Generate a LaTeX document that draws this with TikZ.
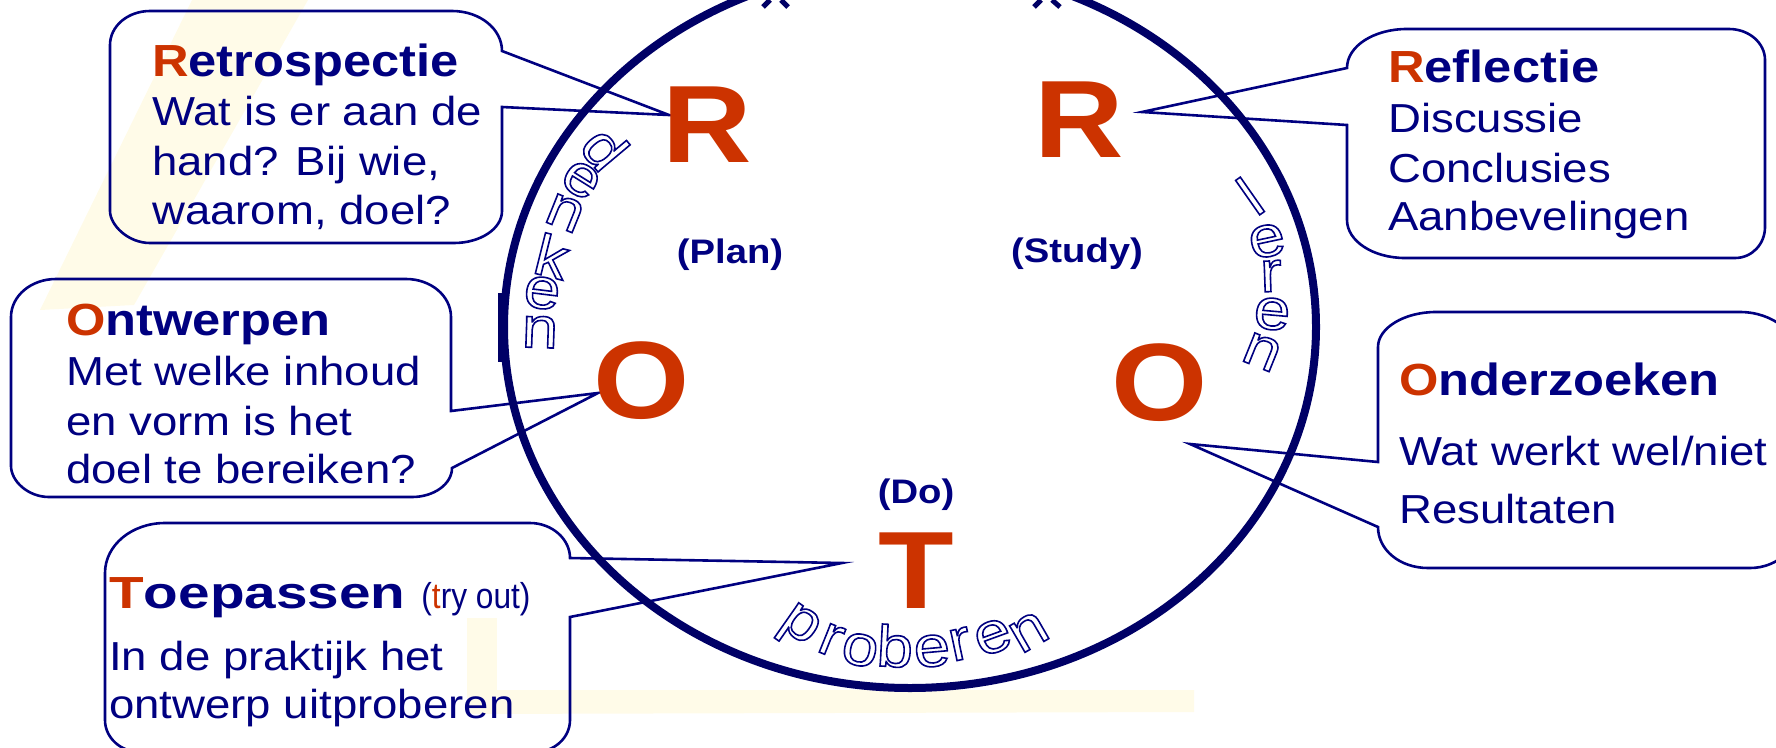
\documentclass[tikz,border=0pt]{standalone}
\usepackage{fontspec}
\setmainfont{Liberation Sans}[FakeStretch=1.125]
\newfontfamily\widefont{Liberation Sans}[FakeStretch=1.26]
\newfontfamily\narrowfont{Liberation Sans}[FakeStretch=0.88]
\newcommand\olt[1]{\special{pdf:literal direct 1 Tr 1.6 w}#1\special{pdf:literal direct 0 Tr}}
\definecolor{ink}{HTML}{000080}
\definecolor{ring}{HTML}{000066}
\definecolor{accent}{HTML}{CC3300}
\definecolor{cream}{HTML}{FFFBE8}
\begin{document}
\begin{tikzpicture}[x=1pt,y=-1pt,
  bubble/.style={draw=ink, line width=2.6pt},
  title/.style={anchor=base west, inner sep=0pt, text=ink, font=\fontsize{45}{50}\selectfont\bfseries},
  body/.style={anchor=base west, inner sep=0pt, text=ink, font=\fontsize{40.5}{48}\selectfont},
  bigletter/.style={anchor=base, inner sep=0pt, text=accent, font=\fontsize{110}{120}\selectfont\bfseries},
  phase/.style={anchor=base, inner sep=0pt, text=ink, font=\fontsize{34}{40}\selectfont\bfseries},
  outl/.style={inner sep=0pt, text=ink, font=\fontsize{58}{62}\selectfont}]
\useasboundingbox (0,0) rectangle (1776,747);
\clip (0,0) rectangle (1776,747);
% faint background strokes
\fill[cream] (192,0) -- (308,0) -- (134,305) -- (40,310) -- cycle;
\fill[cream] (467,690) -- (1194,690) -- (1194,712) -- (467,714) -- cycle;
\fill[cream] (467,618) rectangle (497,690);
% tips
\coordinate (tipA) at (669,115);
\coordinate (tipB) at (598,393);
\coordinate (tipC) at (842,563);
\coordinate (tipD) at (1142,112);
\coordinate (tipE) at (1190,444);
% bubbles
\draw[bubble] (110,45) .. controls (110,26) and (128,11) .. (150,11)
 -- (452,11) .. controls (480,11) and (502,29) .. (502,51)
 -- (tipA) -- (502,107)
 -- (502,211) .. controls (502,229) and (480,243) .. (454,243)
 -- (150,243) .. controls (128,243) and (110,225) .. (110,211) -- cycle;
\draw[bubble] (11,317) .. controls (11,296) and (31,279) .. (56,279)
 -- (406,279) .. controls (431,279) and (451,296) .. (451,317)
 -- (451,411) -- (tipB) -- (452,468)
 .. controls (452,484) and (434,497) .. (412,497)
 -- (49,497) .. controls (28,497) and (11,481) .. (11,466) -- cycle;
\draw[bubble] (105,573) .. controls (105,545) and (132,523) .. (165,523)
 -- (530,523) .. controls (552,523) and (570,539) .. (570,558)
 -- (tipC) -- (570,617)
 -- (570,720) .. controls (570,738) and (554,752) .. (535,752)
 -- (140,752) .. controls (121,752) and (105,738) .. (105,720) -- cycle;
\draw[bubble] (1347,68) .. controls (1347,46) and (1374,29) .. (1407,29)
 -- (1729,29) .. controls (1749,29) and (1765,43) .. (1765,60)
 -- (1765,227) .. controls (1765,244) and (1752,258) .. (1735,258)
 -- (1405,258) .. controls (1373,258) and (1347,241) .. (1347,220)
 -- (1347,125) -- (tipD) -- cycle;
\draw[bubble] (1378,347) .. controls (1378,328) and (1404,312) .. (1436,312)
 -- (1740,312) .. controls (1773,312) and (1800,334) .. (1800,360)
 -- (1800,520) .. controls (1800,547) and (1778,568) .. (1750,568)
 -- (1428,568) .. controls (1400,568) and (1378,550) .. (1378,527)
 -- (tipE) -- (1378,462) -- cycle;
% circle
\draw[ring, line width=8pt] (910,327) ellipse [x radius=406, y radius=361];
\fill[ring] (498,293) rectangle (507,362);
\draw[ring, line width=5pt] (770,0) -- (763,7) (781,0) -- (788,7)
  (1041,0) -- (1034,7) (1052,0) -- (1060,7);
% bubble texts
\node[title] (rt) at (152,76) {\textcolor{accent}{R}etrospectie};
\node[body] (rt1) at (152,125) {Wat is er aan de};
\node[body] (rt2) at (152,175) {hand? Bij wie,};
\node[body] (rt3) at (152,224) {waarom, doel?};
\node[title] (ot) at (66,335) {\textcolor{accent}{O}ntwerpen};
\node[body] (ot1) at (66,385) {Met welke inhoud};
\node[body] (ot2) at (66,435) {en vorm is het};
\node[body] (ot3) at (66,483) {doel te bereiken?};
\node[title] (tt) at (109,608) {\widefont\bfseries\textcolor{accent}{T}oepassen\hspace{16pt}{\narrowfont\mdseries\fontsize{36}{40}\selectfont (\textcolor{accent}{t}ry out)}};
\node[body] (tt1) at (109,670) {In de praktijk het};
\node[body] (tt2) at (109,718) {ontwerp uitproberen};
\node[title] (ft) at (1388,82) {\textcolor{accent}{R}eflectie};
\node[body] (ft1) at (1388,132) {Discussie};
\node[body] (ft2) at (1388,182) {Conclusies};
\node[body] (ft3) at (1388,230) {Aanbevelingen};
\node[title] (zt) at (1399,395) {\textcolor{accent}{O}nderzoeken};
\node[body] (zt1) at (1399,465) {Wat werkt wel/niet};
\node[body] (zt2) at (1399,523) {Resultaten};
% big letters
\node[bigletter] (Rl) at (707,162) {R};
\node[bigletter] (Rr) at (1079,157) {R};
\node[bigletter] (Ol) at (642,418) {O};
\node[bigletter] (Or) at (1160,420) {O};
\node[bigletter] (Td) at (916,608) {T};
% phase labels
\node[phase] (plan) at (730,263) {(Plan)};
\node[phase] (study) at (1077,262) {(Study)};
\node[phase] (do) at (916,503) {(Do)};
% outlined words: denken
\node[outl, rotate=-50] (d1) at (605,148) {\olt{d}};
\node[outl, rotate=-32] (d2) at (581,180) {\olt{e}};
\node[outl, rotate=-22] (d3) at (565,213) {\olt{n}};
\node[outl, rotate=-14] (d4) at (552,256) {\olt{k}};
\node[outl, rotate=-7] (d5) at (542,293) {\olt{e}};
\node[outl, rotate=-2] (d6) at (540,332) {\olt{n}};
% leren
\node[outl, rotate=35] (l1) at (1250,196) {\olt{l}};
\node[outl, rotate=12] (l2) at (1267,241) {\olt{e}};
\node[outl, rotate=2] (l3) at (1271,276) {\olt{r}};
\node[outl, rotate=-5] (l4) at (1272,314) {\olt{e}};
\node[outl, rotate=-22] (l5) at (1262,352) {\olt{n}};
% proberen
\node[outl, rotate=-35] (p1) at (798,628) {\olt{p}};
\node[outl, rotate=-22] (p2) at (831,640) {\olt{r}};
\node[outl, rotate=-12] (p3) at (860,650) {\olt{o}};
\node[outl, rotate=-3] (p4) at (895,646) {\olt{b}};
\node[outl, rotate=5] (p5) at (932,651) {\olt{e}};
\node[outl, rotate=12] (p6) at (960,644) {\olt{r}};
\node[outl, rotate=20] (p7) at (993,637) {\olt{e}};
\node[outl, rotate=30] (p8) at (1029,632) {\olt{n}};
\end{tikzpicture}
\end{document}
